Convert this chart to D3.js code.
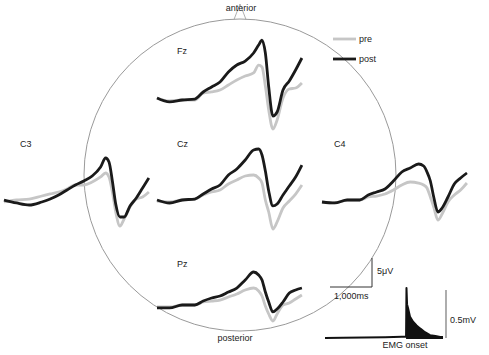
<!DOCTYPE html>
<html>
<head>
<meta charset="utf-8">
<script src="https://cdn.jsdelivr.net/npm/d3@7"></script>
<style>
  html, body { margin: 0; padding: 0; background: #fff; }
  text { font-family: "Liberation Sans", Arial, sans-serif; font-size: 9px; fill: #222; }
</style>
</head>
<body>
<script>
// ---- data (time in ms relative to peak, amplitude in µV, negative plotted up) ----
const times = [-2500, -2200, -1900, -1600, -1400, -1200, -1000, -800, -600, -400, -200, -80, 0, 80, 160, 260, 360, 500, 650, 800, 950];
const channels = ["Fz", "C3", "Cz", "C4", "Pz"];
const fzPre  = [-0.34, 0.17, 0, 0, -1.2, -1.38, -1.72, -2.59, -3.45, -4.14, -4.66, -6.03, -5.69, -2.41, 1.72, 5.0, 3.45, -0.34, -1.9, -2.07, -2.93];
const fzPost = [-0.34, 0.34, 0, -0.17, -1.38, -2.24, -3.1, -4.83, -6.03, -6.72, -8.1, -9.48, -10.34, -8.1, -2.24, 2.76, 2.07, -1.72, -3.28, -5.17, -7.24];
const czPre  = [0.17, 0.34, 0, -0.17, -0.86, -1.38, -1.72, -2.76, -3.45, -4.14, -4.31, -3.79, -2.93, 0, 2.07, 5.0, 3.79, 1.38, 0.17, -1.03, -2.59];
const czPost = [0, 0.52, 0, -0.17, -1.03, -1.9, -2.59, -4.31, -5.34, -6.9, -8.62, -8.79, -7.76, -5.0, -1.55, 1.03, 0.69, -0.86, -2.41, -3.97, -6.03];
const pzPre  = [0.17, 0.17, -0.17, -0.17, -0.69, -0.86, -1.03, -1.55, -2.07, -2.76, -3.1, -2.59, -1.72, 0, 1.38, 2.59, 1.38, -0.17, -0.52, -1.21, -1.9];
const pzPost = [0.34, 0.34, -0.17, -0.17, -0.86, -1.38, -1.72, -2.41, -3.1, -4.48, -5.86, -5.34, -4.48, -2.41, -0.69, 1.03, 0.52, -0.69, -2.24, -2.76, -3.1];
const c3Pre  = [0.17, -0.17, -0.34, -0.86, -1.21, -1.55, -2.07, -2.76, -2.76, -3.28, -4.14, -4.83, -4.14, -1.55, 1.9, 4.31, 3.1, 1.03, -0.34, -0.69, -1.55];
const c3Post = [-0.17, 0.34, 0.69, 0.17, -0.34, -1.03, -1.9, -2.76, -3.45, -4.31, -5.86, -7.41, -6.72, -3.45, 0.52, 2.76, 2.76, 0.86, -0.52, -2.24, -3.97];
const c4Pre  = [0.17, 0.34, -0.17, -0.17, -0.69, -0.86, -1.21, -1.9, -2.76, -3.28, -3.1, -2.76, -2.24, -0.69, 1.03, 3.28, 2.24, 0.17, -1.03, -1.9, -3.1];
const c4Post = [0.17, 0.34, -0.17, -0.17, -1.03, -1.55, -2.07, -3.45, -5.0, -5.69, -6.38, -6.03, -5.0, -3.45, -0.69, 1.9, 1.21, -0.69, -2.93, -3.97, -4.83];
const seriesNames = ["pre", "post"];

// EMG (mV)
const emgTimes  = [-1930, -1500, -1000, -500, -100, 0, 10, 24, 48, 95, 167, 250, 333, 450, 571, 700, 810, 880];
const emgValues = [0, 0.003, 0.006, 0.009, 0.012, 0.012, 0.52, 0.35, 0.31, 0.22, 0.17, 0.13, 0.10, 0.06, 0.03, 0.02, 0.01, 0.01];
const emgOnsetIndex = 5;

const scaleLabels = ["5\u03bcV", "1,000ms", "0.5mV", "EMG onset"];
const orientLabels = ["anterior", "posterior"];

// ---- layout ----
const W = 489, H = 355;
const panelLayout = {
  Fz: { x0: 157, base: 100, lx: 177, ly: 54, pre: fzPre, post: fzPost },
  C3: { x0: 4,   base: 201, lx: 20,  ly: 147, pre: c3Pre, post: c3Post },
  Cz: { x0: 157, base: 200, lx: 177, ly: 147, pre: czPre, post: czPost },
  C4: { x0: 322, base: 201, lx: 334, ly: 147, pre: c4Pre, post: c4Post },
  Pz: { x0: 157, base: 306, lx: 177, ly: 267, pre: pzPre, post: pzPost }
};
const pxPerMs = 0.042, pxPerUv = 5.8;
const colors = { pre: "#c6c6c6", post: "#1a1a1a" };

const svg = d3.select("body").append("svg").attr("width", W).attr("height", H);

// head outline
const cx = 240, cy = 175, r = 156;
svg.append("circle").attr("cx", cx).attr("cy", cy).attr("r", r)
  .attr("fill", "none").attr("stroke", "#9a9a9a").attr("stroke-width", 1);
svg.append("path").attr("d", `M${cx - 6},${cy - r + 0.5} L${cx},${4} L${cx + 6},${cy - r + 0.5}`)
  .attr("fill", "none").attr("stroke", "#9a9a9a").attr("stroke-width", 0.8);
svg.append("text").attr("x", 241).attr("y", 11).attr("text-anchor", "middle").text(orientLabels[0]);
svg.append("text").attr("x", 235).attr("y", 341).attr("text-anchor", "middle").text(orientLabels[1]);

// traces
channels.forEach(ch => {
  const p = panelLayout[ch];
  const x = d3.scaleLinear().domain([-2500, 950]).range([p.x0, p.x0 + 3450 * pxPerMs]);
  const y = d3.scaleLinear().domain([-10, 5]).range([p.base - 10 * pxPerUv, p.base + 5 * pxPerUv]);
  const line = d3.line().x((d, i) => x(times[i])).y(d => y(d)).curve(d3.curveMonotoneX);
  const g = svg.append("g");
  seriesNames.forEach(s => {
    g.append("path").datum(p[s]).attr("d", line)
      .attr("fill", "none").attr("stroke", colors[s])
      .attr("stroke-width", s === "pre" ? 2.8 : 2.8)
      .attr("stroke-linejoin", "round");
  });
  svg.append("text").attr("x", p.lx).attr("y", p.ly).text(ch);
});

// legend
seriesNames.forEach((s, i) => {
  const ly = 39 + i * 20;
  svg.append("line").attr("x1", 333).attr("x2", 356).attr("y1", ly).attr("y2", ly)
    .attr("stroke", colors[s]).attr("stroke-width", 2.8);
  svg.append("text").attr("x", 359).attr("y", ly + 3).text(s);
});

// scale bar (EEG)
const sbX = d3.scaleLinear().domain([0, 1000]).range([330, 330 + 1000 * pxPerMs]);
const sbY = d3.scaleLinear().domain([0, 5]).range([287, 287 - 5 * pxPerUv]);
svg.append("path").attr("d", `M${sbX(0)},${sbY(0)} L${sbX(1000)},${sbY(0)} L${sbX(1000)},${sbY(5)}`)
  .attr("fill", "none").attr("stroke", "#333").attr("stroke-width", 1);
svg.append("text").attr("x", 377).attr("y", 274).text(scaleLabels[0]);
svg.append("text").attr("x", 334).attr("y", 299).text(scaleLabels[1]);

// EMG
const ex = d3.scaleLinear().domain([-1930, 880]).range([325, 325 + 2810 * pxPerMs]);
const ey = d3.scaleLinear().domain([0, 0.5]).range([338, 290]);
svg.append("path").datum(emgValues)
  .attr("d", d3.area().x((d, i) => ex(emgTimes[i]))
    .y0((d, i) => i <= emgOnsetIndex ? ey(d) : ey(0))
    .y1(d => ey(d)))
  .attr("fill", "#111").attr("stroke", "none");
svg.append("path").datum(emgValues)
  .attr("d", d3.line().x((d, i) => ex(emgTimes[i])).y(d => ey(d)))
  .attr("fill", "none").attr("stroke", "#111").attr("stroke-width", 2).attr("stroke-linejoin", "round");
svg.append("line").attr("x1", ex(emgTimes[emgOnsetIndex])).attr("x2", ex(emgTimes[emgTimes.length - 1]))
  .attr("y1", ey(0)).attr("y2", ey(0)).attr("stroke", "#111").attr("stroke-width", 2);
svg.append("line").attr("x1", 446).attr("x2", 446).attr("y1", ey(0)).attr("y2", ey(0.5))
  .attr("stroke", "#777").attr("stroke-width", 1.2);
svg.append("text").attr("x", 450).attr("y", 323).text(scaleLabels[2]);
svg.append("text").attr("x", 405).attr("y", 348).attr("text-anchor", "middle").text(scaleLabels[3]);
</script>
</body>
</html>
